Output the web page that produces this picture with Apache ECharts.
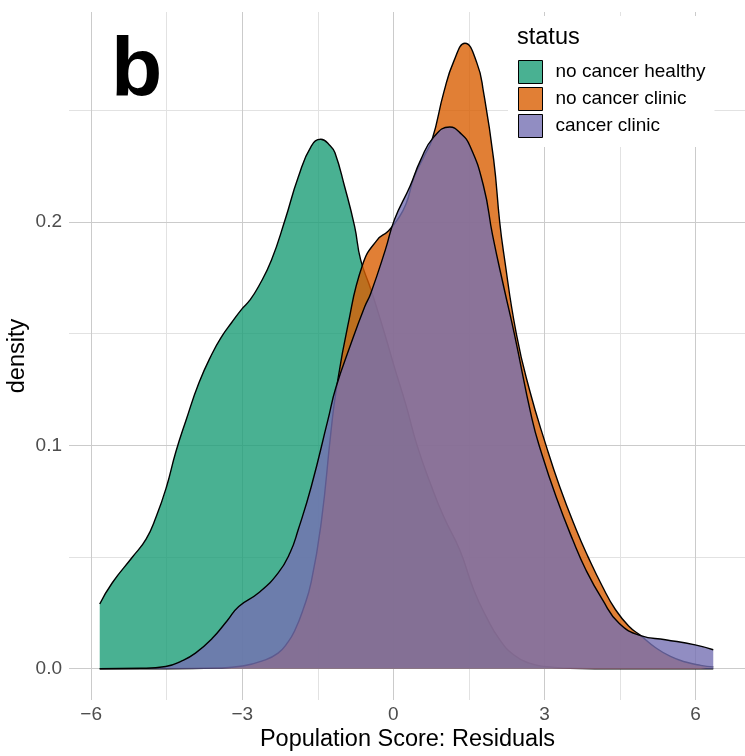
<!DOCTYPE html>
<html>
<head>
<meta charset="utf-8">
<script src="https://cdn.jsdelivr.net/npm/echarts@6.0.0/dist/echarts.min.js"></script>
<style>
  html, body { margin: 0; padding: 0; background: #ffffff; }
  #chart { width: 745px; height: 756px; }
</style>
</head>
<body>
<div id="chart"></div>
<script>
// ---- data ----
const categories = ['no cancer healthy', 'no cancer clinic', 'cancer clinic'];

const xHealthy = [-5.83, -5.58, -5.18, -4.91, -4.71, -4.51, -4.32, -4.12, -3.86, -3.6, -3.4, -3.21, -3.01, -2.85, -2.68, -2.42, -2.15, -1.89, -1.63, -1.44, -1.25, -1.16, -0.97, -0.77, -0.65, -0.45, -0.2, 0.02, 0.25, 0.47, 0.75, 1.0, 1.32, 1.6, 1.85, 2.11, 2.4, 2.7, 3.0, 3.5, 4.0, 5.0, 6.35];
const yHealthy = [0.029, 0.0385, 0.050, 0.058, 0.068, 0.081, 0.097, 0.111, 0.128, 0.141, 0.149, 0.155, 0.161, 0.165, 0.171, 0.183, 0.201, 0.220, 0.234, 0.237, 0.234, 0.231, 0.216, 0.198, 0.183, 0.170, 0.152, 0.135, 0.118, 0.100, 0.082, 0.068, 0.053, 0.035, 0.023, 0.013, 0.006, 0.0025, 0.001, 0.0002, 0, 0, 0];

const xNoCancerClinic = [-5.83, -4.5, -3.5, -3.0, -2.6, -2.29, -2.09, -1.96, -1.8, -1.63, -1.43, -1.24, -1.14, -0.91, -0.61, -0.32, -0.1, 0.08, 0.25, 0.41, 0.6, 0.77, 1.0, 1.2, 1.42, 1.66, 1.79, 1.99, 2.11, 2.19, 2.44, 2.7, 3.03, 3.3, 3.63, 3.86, 4.15, 4.41, 4.68, 4.91, 5.2, 5.5, 5.8, 6.1, 6.35];
const yNoCancerClinic = [0, 0, 0.0003, 0.0012, 0.0035, 0.007, 0.012, 0.017, 0.026, 0.039, 0.066, 0.106, 0.124, 0.153, 0.181, 0.192, 0.196, 0.201, 0.208, 0.220, 0.229, 0.237, 0.258, 0.272, 0.280, 0.271, 0.258, 0.228, 0.200, 0.186, 0.150, 0.125, 0.100, 0.0816, 0.0622, 0.0503, 0.0368, 0.0264, 0.0189, 0.0148, 0.0095, 0.0055, 0.003, 0.0015, 0.0008];

const xCancerClinic = [-5.83, -5.0, -4.52, -4.2, -3.93, -3.6, -3.3, -3.07, -2.68, -2.29, -2.05, -1.89, -1.63, -1.3, -1.14, -0.85, -0.57, -0.45, -0.16, 0.02, 0.33, 0.54, 0.8, 1.12, 1.32, 1.52, 1.79, 1.97, 2.2, 2.4, 2.75, 2.94, 3.23, 3.56, 3.82, 4.15, 4.48, 4.91, 5.4, 5.99, 6.35];
const yCancerClinic = [0, 0.0002, 0.001, 0.0035, 0.007, 0.0135, 0.0215, 0.0279, 0.0339, 0.0428, 0.052, 0.0622, 0.0816, 0.1114, 0.126, 0.145, 0.162, 0.168, 0.1875, 0.201, 0.216, 0.2277, 0.238, 0.2425, 0.240, 0.234, 0.216, 0.194, 0.170, 0.150, 0.112, 0.0966, 0.077, 0.0577, 0.0443, 0.0309, 0.0204, 0.0148, 0.013, 0.0107, 0.0085];

const xTicks = [-6, -3, 0, 3, 6];
const xMinorTicks = [-4.5, -1.5, 1.5, 4.5];
const yTicks = [0, 0.1, 0.2];
const yMinorTicks = [0.05, 0.15, 0.25];

// ---- styling ----
const fills = ['rgba(27,158,119,0.8)', 'rgba(217,95,2,0.8)', 'rgba(117,112,179,0.8)'];
const FONT = 'Liberation Sans';

function pairs(xs, ys) { return xs.map((x, i) => [x, ys[i]]); }
const seriesData = [pairs(xHealthy, yHealthy), pairs(xNoCancerClinic, yNoCancerClinic), pairs(xCancerClinic, yCancerClinic)];

const gridLines = []
  .concat(xMinorTicks.map(v => ({ xAxis: v, lineStyle: { color: '#E2E2E2', width: 1, type: 'solid' } })))
  .concat(yMinorTicks.map(v => ({ yAxis: v, lineStyle: { color: '#E2E2E2', width: 1, type: 'solid' } })))
  .concat(xTicks.map(v => ({ xAxis: v, lineStyle: { color: '#CBCBCB', width: 1, type: 'solid' } })))
  .concat(yTicks.map(v => ({ yAxis: v, lineStyle: { color: '#CBCBCB', width: 1, type: 'solid' } })));

const series = [{
  name: '__grid', type: 'line', data: [], silent: true, animation: false, z: 1,
  markLine: { silent: true, symbol: 'none', z: 1, animation: false, label: { show: false }, data: gridLines }
}].concat(categories.map((name, i) => ({
  name: name,
  type: 'line',
  z: 2 + i,
  data: seriesData[i],
  showSymbol: false,
  symbol: 'none',
  smooth: 0.5,
  silent: true,
  animation: false,
  lineStyle: { color: '#000000', width: 1.4 },
  itemStyle: { color: fills[i] },
  areaStyle: { color: fills[i], opacity: 1 },
  emphasis: { disabled: true }
})));

const chart = echarts.init(document.getElementById('chart'), null, { renderer: 'canvas' });
chart.setOption({
  animation: false,
  backgroundColor: '#ffffff',
  textStyle: { fontFamily: FONT },
  grid: { left: 69, top: 12, width: 681, height: 688, containLabel: false },
  xAxis: {
    type: 'value', min: -6.44, max: 6.98,
    axisLine: { show: false },
    splitLine: { show: false },
    axisTick: { show: true, customValues: xTicks, length: 4, lineStyle: { color: '#333333', width: 1 } },
    axisLabel: {
      customValues: xTicks, color: '#4D4D4D', fontSize: 19, margin: 5, fontFamily: FONT,
      formatter: v => (v < 0 ? '\u2212' + Math.abs(v) : String(v))
    }
  },
  yAxis: {
    type: 'value', min: -0.014, max: 0.294,
    axisLine: { show: false },
    splitLine: { show: false },
    axisTick: { show: true, customValues: yTicks, length: 4, lineStyle: { color: '#333333', width: 1 } },
    axisLabel: {
      customValues: yTicks, color: '#4D4D4D', fontSize: 19, margin: 7, fontFamily: FONT,
      formatter: v => v.toFixed(1)
    }
  },
  legend: {
    orient: 'vertical',
    left: 508, top: 16,
    padding: [44, 9, 9, 10],
    backgroundColor: '#ffffff',
    selectedMode: false,
    z: 10,
    icon: 'rect',
    itemWidth: 24, itemHeight: 23, itemGap: 3,
    textStyle: { fontSize: 19, color: '#000000', fontFamily: FONT, padding: [4, 0, 0, 8] },
    data: categories.map((name, i) => ({
      name: name,
      icon: 'rect',
      itemStyle: { color: fills[i], borderColor: '#000000', borderWidth: 1 }
    }))
  },
  graphic: [
    { type: 'text', z: 100, x: 111, y: 73, style: { text: 'b', font: 'bold 84px "Liberation Sans"', fill: '#000000', align: 'left', verticalAlign: 'middle' } },
    { type: 'text', z: 100, x: 517, y: 38, style: { text: 'status', font: '23.5px "Liberation Sans"', fill: '#000000', align: 'left', verticalAlign: 'middle' } },
    { type: 'text', z: 100, x: 407.5, y: 740, style: { text: 'Population Score: Residuals', font: '23.5px "Liberation Sans"', fill: '#000000', align: 'center', verticalAlign: 'middle' } },
    { type: 'text', z: 100, x: 18, y: 356, rotation: Math.PI / 2, style: { text: 'density', font: '23.5px "Liberation Sans"', fill: '#000000', align: 'center', verticalAlign: 'middle' } }
  ],
  series: series
});
</script>
</body>
</html>
